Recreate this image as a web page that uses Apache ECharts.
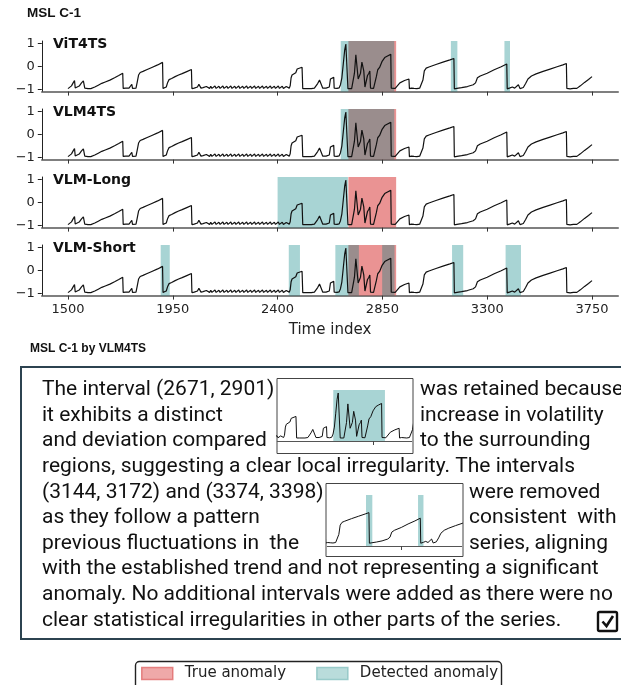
<!DOCTYPE html>
<html><head><meta charset="utf-8">
<script src="https://cdn.jsdelivr.net/npm/echarts@6/dist/echarts.min.js"></script>
<style>html,body{margin:0;padding:0;background:#fff;}#c{width:621px;height:685px;}</style>
</head><body><div id="c"></div>
<script>
// ---------- data ----------
const timeIdx = [
1500,1506,1515,1522,1528,1531,1538,1548,1558,1566,1569,1572,1580,1586,1592,1598,1606,1615,1630,1645,1660,1680,1700,1718,1735,1737,
1748,1756,1762,1768,1774,1777,1792,1797,1803,1810,1822,1840,1860,1885,1906,1908,1916,1922,1928,1934,1945,1960,1975,1990,2010,2030,2032,
2042,2050,2056,2062,2067,2071,2080,2088,
2094,2100,2108,2113,2118,2126,2131,2136,2143,2148,2153,2160,2165,2170,2177,2182,2187,2194,2199,2204,2211,2216,2221,2228,2233,2238,
2245,2250,2255,2262,2267,2272,2279,2284,2289,2296,2301,2306,2313,2318,2323,2330,2335,2340,2347,2352,2357,2364,2369,2374,2381,2386,
2391,2398,2403,2408,2415,2420,2425,2432,2437,2442,
2450,2454,2458,2462,2470,2478,2484,2492,2505,2508,2520,2545,2558,2565,2572,2580,2588,2591,2594,2608,2615,2622,2627,2634,2641,2643,
2655,2664,2670,2676,2682,2688,2693,2699,2702,2718,2724,2730,2736,2740,2746,2750,2756,2762,2766,2770,2775,2780,2786,2792,2796,2799,
2812,2818,2824,2830,2838,2848,2860,2872,2886,2888,2905,2912,2925,2945,2964,2966,2975,2980,2986,2992,2998,3010,3024,3030,3038,3050,
3080,3110,3140,3157,3159,3170,3190,3215,3240,3250,3258,3270,3300,3330,3360,3384,3386,3398,3408,3414,3418,3426,3434,3438,3441,3455,
3465,3475,3490,3510,3540,3570,3600,3625,3640,3642,3650,3656,3662,3670,3685,3700,3718,3735,3750];
const values = [
-0.97,-0.93,-0.85,-0.72,-0.62,-0.94,-0.92,-0.86,-0.72,-0.63,-0.62,-0.95,-0.93,-0.97,-0.91,-0.97,-0.93,-0.9,-0.82,-0.74,-0.68,-0.6,-0.5,-0.4,-0.3,-0.96,
-0.95,-0.9,-0.95,-0.88,-0.78,-0.96,-0.95,-0.7,-0.38,-0.27,-0.22,-0.14,-0.05,0.06,0.17,-0.96,-0.97,-0.9,-0.7,-0.58,-0.53,-0.45,-0.38,-0.32,-0.23,-0.14,-0.97,
-0.95,-0.96,-0.9,-0.78,-0.76,-0.95,-0.93,-0.97,
-0.88,-0.96,-0.96,-0.87,-0.96,-0.95,-0.86,-0.96,-0.95,-0.87,-0.96,-0.96,-0.86,-0.96,-0.95,-0.87,-0.96,-0.95,-0.86,-0.96,-0.96,-0.87,-0.96,-0.95,-0.86,-0.96,
-0.96,-0.87,-0.96,-0.95,-0.86,-0.96,-0.96,-0.87,-0.96,-0.95,-0.86,-0.96,-0.96,-0.87,-0.96,-0.95,-0.86,-0.96,-0.96,-0.87,-0.96,-0.95,-0.86,-0.96,-0.96,-0.87,
-0.96,-0.95,-0.86,-0.96,-0.96,-0.87,-0.96,-0.95,-0.88,-0.96,
-0.95,-0.85,-0.5,-0.38,-0.33,-0.28,-0.12,-0.06,-0.04,-0.97,-0.97,-0.97,-0.95,-0.88,-0.75,-0.6,-0.52,-0.52,-0.95,-0.95,-0.96,-0.9,-0.55,-0.5,-0.48,-0.95,
-0.96,-0.94,-0.8,-0.5,0.1,0.7,0.97,0.98,-0.97,-0.97,-0.9,-0.3,0.5,0.47,-0.55,-0.6,-0.3,0.18,0.15,-0.2,-0.9,-0.95,-0.4,-0.3,-0.2,-0.95,
-0.96,-0.9,-0.45,-0.15,-0.05,0.2,0.38,0.45,0.52,-0.95,-0.96,-0.88,-0.72,-0.62,-0.55,-0.97,-0.95,-0.9,-0.96,-0.92,-0.97,-0.95,-0.6,-0.2,-0.08,-0.03,
0.08,0.18,0.28,0.34,-0.98,-0.96,-0.93,-0.88,-0.8,-0.72,-0.5,-0.42,-0.3,-0.15,-0.02,0.1,-0.98,-0.94,-0.9,-0.84,-0.95,-0.94,-0.8,-0.78,-0.97,-0.92,
-0.75,-0.55,-0.42,-0.33,-0.22,-0.12,-0.02,0.06,0.12,-0.96,-0.95,-0.98,-0.93,-0.96,-0.96,-0.85,-0.7,-0.57,-0.45];

const panelNames = ['ViT4TS', 'VLM4TS', 'VLM-Long', 'VLM-Short'];
const trueAnomaly = [[2704, 2909]];
const detViT4TS = [[2671, 2901], [3144, 3172], [3374, 3398]];
const detVLM4TS = [[2671, 2901]];
const detVLMLong = [[2400, 2702]];
const detVLMShort = [[1898, 1937], [2448, 2496], [2648, 2749], [2849, 2902], [3149, 3197], [3379, 3445]];
const detectedByPanel = [detViT4TS, detVLM4TS, detVLMLong, detVLMShort];
const xTicks = [1500, 1950, 2400, 2850, 3300, 3750];
const yTicks = [-1, 0, 1];
const inset1Range = [2422, 3020];
const inset1Ticks = [2850];
const inset1Detected = [[2671, 2901]];
const inset2Range = [2973, 3567];
const inset2Ticks = [3300];
const inset2Detected = [[3144, 3172], [3374, 3398]];

const mainTitle = 'MSL C-1';
const subTitle = 'MSL C-1 by VLM4TS';
const legendNames = ['True anomaly', 'Detected anomaly'];
// text box lines: [left part, right part (beside inset)]
const bodyLines = [
  ['The interval (2671, 2901)', 'was retained because'],
  ['it exhibits a distinct', 'increase in volatility'],
  ['and deviation compared', 'to the surrounding'],
  ['regions, suggesting a clear local irregularity. The intervals', ''],
  ['(3144, 3172) and (3374, 3398)', 'were removed'],
  ['as they follow a pattern', 'consistent  with'],
  ['previous fluctuations in  the', 'series, aligning'],
  ['with the established trend and not representing a significant', ''],
  ['anomaly. No additional intervals were added as there were no', ''],
  ['clear statistical irregularities in other parts of the series.', '']
];

// ---------- layout ----------
const seriesData = timeIdx.map((t, i) => [t, values[i]]);
const RED = 'rgba(214,39,40,0.5)';
const TEAL = 'rgba(0,128,128,0.34)';
const G = {left: 41.8, width: 576.4, top0: 41, step: 68, h: 50.6};
const XMIN = 1387.5, XMAX = 3862.5;

function bands(trueList, detList) {
  const d = [];
  trueList.forEach(([a, b]) => d.push([{xAxis: a, itemStyle: {color: RED}}, {xAxis: b}]));
  detList.forEach(([a, b]) => d.push([{xAxis: a, itemStyle: {color: TEAL}}, {xAxis: b}]));
  return d;
}
const tickFont = {fontFamily: 'DejaVu Sans', fontSize: 13, color: '#222'};

const grids = [], xAxes = [], yAxes = [], series = [];
panelNames.forEach((name, i) => {
  grids.push({left: G.left, top: G.top0 + G.step * i, width: G.width, height: G.h});
  xAxes.push({
    type: 'value', gridIndex: i, min: XMIN, max: XMAX,
    axisLine: {show: true, onZero: false, lineStyle: {color: '#555', width: 1.6}},
    axisTick: {show: true, customValues: xTicks, length: 4, lineStyle: {color: '#333', width: 1}},
    axisLabel: Object.assign({show: i === 3, customValues: xTicks, margin: 8, formatter: v => String(v)}, tickFont),
    splitLine: {show: false},
    name: i === 3 ? 'Time index' : '', nameLocation: 'middle', nameGap: 27,
    nameTextStyle: {fontFamily: 'DejaVu Sans', fontSize: 15, color: '#222'}
  });
  yAxes.push({
    type: 'value', gridIndex: i, min: -1.1, max: 1.1,
    axisLine: {show: true, onZero: false, lineStyle: {color: '#222', width: 1}},
    axisTick: {show: true, customValues: yTicks, length: 4, lineStyle: {color: '#222', width: 1}},
    axisLabel: Object.assign({customValues: yTicks, margin: 7,
      formatter: v => v < 0 ? '\u2212' + Math.abs(v) : String(v)}, tickFont),
    splitLine: {show: false}
  });
  series.push({
    type: 'line', xAxisIndex: i, yAxisIndex: i, data: seriesData, symbol: 'none', showSymbol: false,
    itemStyle: {color: '#111'}, lineStyle: {color: '#111', width: 1.2}, silent: true, z: 3,
    markArea: {silent: true, label: {show: false}, data: bands(trueAnomaly, detectedByPanel[i])}
  });
});

// insets
const insets = [
  {left: 277.3, top: 390, range: inset1Range, ticks: inset1Ticks, det: inset1Detected},
  {left: 327.3, top: 495, range: inset2Range, ticks: inset2Ticks, det: inset2Detected}
];
insets.forEach((ins, k) => {
  const gi = 4 + k;
  grids.push({left: ins.left, top: ins.top, width: 134.4, height: 51});
  xAxes.push({
    type: 'value', gridIndex: gi, min: ins.range[0], max: ins.range[1],
    axisLine: {show: true, onZero: false, lineStyle: {color: '#555', width: 1}},
    axisTick: {show: true, customValues: ins.ticks, length: 4, lineStyle: {color: '#444', width: 1}},
    axisLabel: {show: false}, splitLine: {show: false}
  });
  yAxes.push({type: 'value', gridIndex: gi, min: -1.1, max: 1.1, show: false, splitLine: {show: false}});
  series.push({
    type: 'line', xAxisIndex: gi, yAxisIndex: gi, data: seriesData, symbol: 'none', showSymbol: false,
    itemStyle: {color: '#111'}, lineStyle: {color: '#111', width: 1}, silent: true, z: 3,
    markArea: {silent: true, label: {show: false}, data: bands([], ins.det)}
  });
});

// legend series
series.push({type: 'scatter', name: legendNames[0], xAxisIndex: 0, yAxisIndex: 0, data: [], itemStyle: {color: '#eb9494'}});
series.push({type: 'scatter', name: legendNames[1], xAxisIndex: 0, yAxisIndex: 0, data: [], itemStyle: {color: '#a8d3d2'}});

// body text sizing
const ctx = document.createElement('canvas').getContext('2d');
const BODY_FAMILY = 'Roboto';
function tw(txt, size) { ctx.font = size + 'px ' + BODY_FAMILY; return ctx.measureText(txt).width; }
const bodySize = 18 * 571 / tw(bodyLines[8][0], 18);
const lineY0 = 390, lineStep = 25.6;
const rightX = [420, 420, 420, 0, 469, 469, 469, 0, 0, 0];

const graphic = [];
graphic.push({type: 'text', x: 27, y: 13, style: {text: mainTitle, font: 'bold 13.5px "Liberation Sans"', fill: '#111', verticalAlign: 'middle'}});
graphic.push({type: 'text', x: 30, y: 349, style: {text: subTitle, font: 'bold 12px "Liberation Sans"', fill: '#111', verticalAlign: 'middle'}});
panelNames.forEach((name, i) => {
  graphic.push({type: 'text', x: 53, y: G.top0 + G.step * i + 3.5, z: 10,
    style: {text: name, font: 'bold 14px "DejaVu Sans"', fill: '#111', verticalAlign: 'middle'}});
});
// text box
graphic.push({type: 'rect', shape: {x: 21, y: 367, width: 640, height: 272},
  style: {fill: 'none', stroke: '#2c4350', lineWidth: 2}});
// inset frames
graphic.push({type: 'rect', shape: {x: 277, y: 378.5, width: 136, height: 75}, style: {fill: 'none', stroke: '#444', lineWidth: 1}});
graphic.push({type: 'rect', shape: {x: 326, y: 483.5, width: 137, height: 73}, style: {fill: 'none', stroke: '#444', lineWidth: 1}});
bodyLines.forEach((ln, i) => {
  const y = lineY0 + lineStep * i;
  graphic.push({type: 'text', x: 42, y: y, style: {text: ln[0], font: bodySize.toFixed(2) + 'px ' + BODY_FAMILY, fill: '#111', verticalAlign: 'middle'}});
  if (ln[1]) graphic.push({type: 'text', x: rightX[i], y: y, style: {text: ln[1], font: bodySize.toFixed(2) + 'px ' + BODY_FAMILY, fill: '#111', verticalAlign: 'middle'}});
});
// checkbox
graphic.push({type: 'rect', shape: {x: 598, y: 612, width: 19, height: 19, r: 1.5}, style: {fill: '#fff', stroke: '#111', lineWidth: 2.4}});
graphic.push({type: 'polyline', shape: {points: [[602.5, 621.5], [606.5, 626], [613, 616]]}, style: {fill: 'none', stroke: '#111', lineWidth: 2.6}});
// legend frame (runs off the bottom of the page)
graphic.push({type: 'rect', shape: {x: 135.5, y: 661.5, width: 366, height: 40, r: 4}, style: {fill: 'none', stroke: '#222', lineWidth: 1.4}});

const option = {
  animation: false,
  backgroundColor: '#fff',
  grid: grids, xAxis: xAxes, yAxis: yAxes, series: series,
  legend: {
    left: 135, top: 663, orient: 'horizontal', padding: [3, 6, 3, 6],
    itemWidth: 31, itemHeight: 12, itemGap: 30,
    borderWidth: 0, selectedMode: false,
    textStyle: {fontFamily: 'DejaVu Sans', fontSize: 15, color: '#222', padding: [0, 0, 0, 7]},
    data: [
      {name: legendNames[0], icon: 'rect', itemStyle: {color: '#eb9494', borderColor: '#e06a6a', borderWidth: 1.5}},
      {name: legendNames[1], icon: 'rect', itemStyle: {color: '#a8d3d2', borderColor: '#88c2c1', borderWidth: 1.5}}
    ]
  },
  graphic: graphic
};
const chart = echarts.init(document.getElementById('c'), null, {renderer: 'canvas'});
chart.setOption(option);
</script></body></html>
